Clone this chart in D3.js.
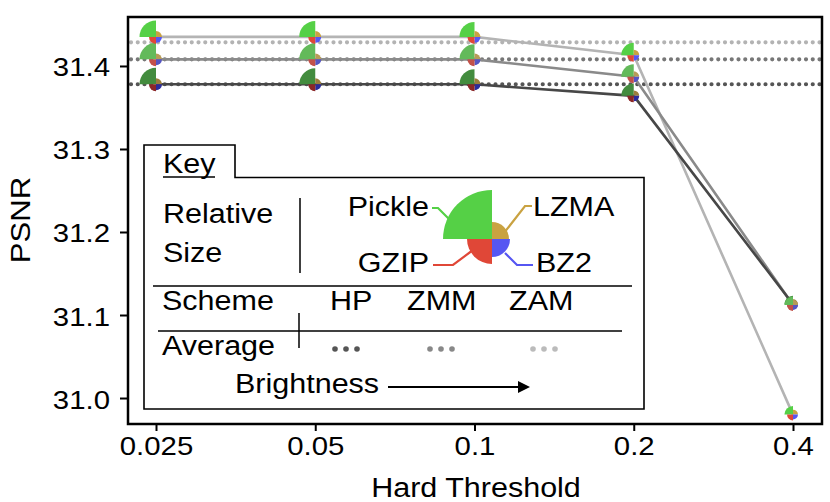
<!DOCTYPE html>
<html><head><meta charset="utf-8">
<script src="https://cdn.jsdelivr.net/npm/d3@7"></script>
<style>body{margin:0;background:#fff}svg{display:block}text{font-family:"Liberation Sans",Arial,Helvetica,sans-serif;fill:#000}</style>
</head><body>
<script>
// ---------- data ----------
const thresholds = [0.025, 0.05, 0.1, 0.2, 0.4];
const thresholdLabels = ["0.025", "0.05", "0.1", "0.2", "0.4"];
const yTicks = [31.0, 31.1, 31.2, 31.3, 31.4];
const schemes = ["HP", "ZMM", "ZAM"];
const psnrHP  = [31.378, 31.378, 31.378, 31.364, 31.113];
const psnrZMM = [31.408, 31.408, 31.408, 31.387, 31.112];
const psnrZAM = [31.435, 31.435, 31.435, 31.413, 30.980];
const avgHP = 31.378, avgZMM = 31.408, avgZAM = 31.4285;
// relative compressed sizes (area, normalised to Pickle at 0.025)
const sizePickle = [1.00, 0.94, 0.83, 0.57, 0.27];
const sizeGZIP   = [0.18, 0.18, 0.18, 0.155, 0.13];
const sizeLZMA   = [0.13, 0.13, 0.13, 0.11, 0.09];
const sizeBZ2    = [0.13, 0.13, 0.13, 0.11, 0.09];
const compressors = ["Pickle", "LZMA", "BZ2", "GZIP"];
const legendSizes = [1.0, 0.12, 0.135, 0.26];

// ---------- style ----------
const W = 830, H = 502, SX = 1.13;
const lineColors = {HP: "#474747", ZMM: "#8a8a8a", ZAM: "#b4b4b4"};
const avgColors  = {HP: "#555555", ZMM: "#777777", ZAM: "#b3b3b3"};
const keyDotColors = {HP: "#555555", ZMM: "#888888", ZAM: "#bbbbbb"};
const glyphColors = {
  ZAM: {Pickle: "#55d046", LZMA: "#c9a241", BZ2: "#5656f2", GZIP: "#e04737"},
  ZMM: {Pickle: "#63ba5a", LZMA: "#b79b57", BZ2: "#5555c2", GZIP: "#c2514a"},
  HP:  {Pickle: "#438c3e", LZMA: "#9c7e3c", BZ2: "#2c2c9c", GZIP: "#8c2727"}
};
const quad = {Pickle: [-Math.PI/2, 0], LZMA: [0, Math.PI/2], BZ2: [Math.PI/2, Math.PI], GZIP: [Math.PI, 1.5*Math.PI]};

const svg = d3.select("body").append("svg").attr("width", W).attr("height", H);
const L = 128, R = 822, T = 17, B = 424;

const x = d3.scaleLog().base(2).domain([0.025, 0.4]).range([156, 793]);
const y = d3.scaleLinear().domain([30.9687, 31.459]).range([B, T]);
const rChart = d3.scaleSqrt().domain([0, 1]).range([0, 16.5]);
const rKey = d3.scaleSqrt().domain([0, 1]).range([0, 49]);

function txt(g, px, py, s, size, anchor, extra) {
  return g.append("text")
    .attr("transform", `translate(${px},${py})${extra || ""} scale(${SX},1)`)
    .attr("text-anchor", anchor || "start")
    .style("font-size", size + "px").text(s);
}

// axes
const xAxis = svg.append("g").attr("transform", `translate(0,${B})`)
  .call(d3.axisBottom(x).tickValues(thresholds).tickFormat((d, i) => thresholdLabels[i]).tickSize(7).tickSizeOuter(0));
xAxis.select(".domain").remove();
xAxis.selectAll(".tick line").attr("stroke", "#000").attr("stroke-width", 2);
xAxis.selectAll(".tick text").each(function() {
  d3.select(this).attr("y", null).attr("dy", null)
    .attr("transform", `translate(0,31) scale(${SX},1)`)
    .style("font-size", "26px").attr("font-family", null).style("font-family", '"Liberation Sans",Arial,sans-serif');
});
const yAxis = svg.append("g").attr("transform", `translate(${L},0)`)
  .call(d3.axisLeft(y).tickValues(yTicks).tickFormat(d3.format(".1f")).tickSize(8).tickSizeOuter(0));
yAxis.select(".domain").remove();
yAxis.selectAll(".tick line").attr("stroke", "#000").attr("stroke-width", 2);
yAxis.selectAll(".tick text").each(function() {
  d3.select(this).attr("x", null).attr("dy", null)
    .attr("transform", `translate(-18,10) scale(${SX},1)`)
    .style("font-size", "26px").style("font-family", '"Liberation Sans",Arial,sans-serif');
});
svg.selectAll(".tick text").attr("fill", "#000");

txt(svg, 30, 220, "PSNR", 27.5, "middle", " rotate(-90)");
txt(svg, 476, 497, "Hard Threshold", 27, "middle");

// plot clip
svg.append("clipPath").attr("id", "clip").append("rect").attr("x", L).attr("y", T).attr("width", R - L).attr("height", B - T);
const plot = svg.append("g").attr("clip-path", "url(#clip)");

// average dotted lines
const avgs = {HP: avgHP, ZMM: avgZMM, ZAM: avgZAM};
["ZAM", "ZMM", "HP"].forEach(s => {
  plot.append("line").attr("x1", L + 3).attr("x2", R).attr("y1", y(avgs[s])).attr("y2", y(avgs[s]))
    .attr("stroke", avgColors[s]).attr("stroke-width", 4.2).attr("stroke-linecap", "round")
    .attr("stroke-dasharray", "0,6.75");
});

// series lines
const series = {HP: psnrHP, ZMM: psnrZMM, ZAM: psnrZAM};
const line = d3.line().x((d, i) => x(thresholds[i])).y(d => y(d));
["ZAM", "ZMM", "HP"].forEach(s => {
  plot.append("path").datum(series[s]).attr("d", line).attr("fill", "none")
    .attr("stroke", lineColors[s]).attr("stroke-width", 2.6);
});

// glyphs
const sizes = {Pickle: sizePickle, LZMA: sizeLZMA, BZ2: sizeBZ2, GZIP: sizeGZIP};
const arc = d3.arc().innerRadius(0);
["HP", "ZMM", "ZAM"].forEach(s => {
  thresholds.forEach((t, i) => {
    const g = plot.append("g").attr("transform", `translate(${x(t)},${y(series[s][i])})`);
    compressors.forEach(c => {
      g.append("path").attr("d", arc({outerRadius: rChart(sizes[c][i]), startAngle: quad[c][0], endAngle: quad[c][1]}))
        .attr("fill", glyphColors[s][c]);
    });
  });
});

// frame
svg.append("rect").attr("x", L).attr("y", T).attr("width", R - L).attr("height", B - T)
  .attr("fill", "none").attr("stroke", "#000").attr("stroke-width", 2.5);

// ---------- key ----------
const key = svg.append("g");
key.append("path").attr("d", "M144,409 L144,145 L235,145 L235,177.5 L644,177.5 L644,409 Z")
  .attr("fill", "#fff").attr("stroke", "#000").attr("stroke-width", 1.6);
txt(key, 163, 173, "Key", 27);
key.append("line").attr("x1", 163).attr("x2", 215).attr("y1", 177).attr("y2", 177).attr("stroke", "#000").attr("stroke-width", 1.5);
txt(key, 163, 223, "Relative", 27);
txt(key, 163, 262, "Size", 27);
key.append("line").attr("x1", 300).attr("x2", 300).attr("y1", 198).attr("y2", 273).attr("stroke", "#000").attr("stroke-width", 1.5);

const kc = [492, 239];
const kg = key.append("g").attr("transform", `translate(${kc[0]},${kc[1]})`);
compressors.forEach((c, i) => {
  kg.append("path").attr("d", arc({outerRadius: rKey(legendSizes[i]), startAngle: quad[c][0], endAngle: quad[c][1]}))
    .attr("fill", glyphColors.ZAM[c]);
});
const leaders = [
  {c: "Pickle", pts: [[432, 208], [438, 208], [449, 219]]},
  {c: "LZMA", pts: [[504, 233], [525, 206], [532, 206]]},
  {c: "GZIP", pts: [[473, 250], [453, 265], [433, 265]]},
  {c: "BZ2", pts: [[505, 253], [517, 265], [533, 265]]}
];
leaders.forEach(l => {
  key.append("path").attr("d", d3.line()(l.pts)).attr("fill", "none")
    .attr("stroke", glyphColors.ZAM[l.c]).attr("stroke-width", 2.2);
});
txt(key, 429, 216, "Pickle", 27, "end");
txt(key, 533, 216, "LZMA", 27);
txt(key, 429, 272, "GZIP", 27, "end");
txt(key, 536, 272, "BZ2", 27);

key.append("line").attr("x1", 153).attr("x2", 632).attr("y1", 286).attr("y2", 286).attr("stroke", "#000").attr("stroke-width", 1.5);
txt(key, 162, 310, "Scheme", 27);
txt(key, 162, 355, "Average", 27);
key.append("line").attr("x1", 158).attr("x2", 622).attr("y1", 331).attr("y2", 331).attr("stroke", "#000").attr("stroke-width", 1.5);
key.append("line").attr("x1", 299).attr("x2", 299).attr("y1", 313).attr("y2", 348).attr("stroke", "#000").attr("stroke-width", 1.5);
const schemeX = {HP: 330, ZMM: 407, ZAM: 509};
const dotX = {HP: 335, ZMM: 430, ZAM: 533};
schemes.forEach(s => {
  txt(key, schemeX[s], 310, s, 27);
  [0, 11, 22].forEach(dx => key.append("circle").attr("cx", dotX[s] + dx).attr("cy", 349).attr("r", 2.8).attr("fill", keyDotColors[s]));
});
txt(key, 235, 393, "Brightness", 27);
key.append("line").attr("x1", 388).attr("x2", 520).attr("y1", 387).attr("y2", 387).attr("stroke", "#000").attr("stroke-width", 2);
key.append("path").attr("d", "M518,381 L530,387 L518,393 Z").attr("fill", "#000");
</script>
</body></html>
